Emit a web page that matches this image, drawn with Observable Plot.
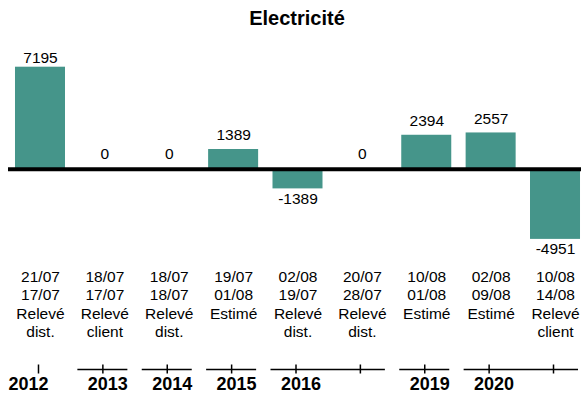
<!DOCTYPE html>
<html><head><meta charset="utf-8">
<script src="https://cdn.jsdelivr.net/npm/d3@7"></script>
<script src="https://cdn.jsdelivr.net/npm/@observablehq/plot@0.6"></script>
<style>
html,body{margin:0;padding:0;background:#fff;overflow:hidden;}
#wrap{position:relative;width:581px;height:401px;font-family:"Liberation Sans",Arial,sans-serif;overflow:hidden;}
#title{position:absolute;top:8px;left:0;width:594px;text-align:center;font-weight:bold;font-size:20px;line-height:20px;color:#000;}
#chart svg{display:block;}
</style></head><body>
<div id="wrap"><div id="title">Electricité</div><div id="chart"></div></div>
<script>
const dateStart = ["21/07","18/07","18/07","19/07","02/08","20/07","10/08","02/08","10/08"];
const dateEnd   = ["17/07","17/07","18/07","01/08","19/07","28/07","01/08","09/08","14/08"];
const readType  = ["Relevé\ndist.","Relevé\nclient","Relevé\ndist.","Estimé","Relevé\ndist.","Relevé\ndist.","Estimé","Estimé","Relevé\nclient"];
const values    = [7195, 0, 0, 1389, -1389, 0, 2394, 2557, -4951];
const yearGroup = ["2012","2013","2014","2015","2016","2016","2019","2020","2020"];

const categories = dateStart.map((d, i) => `${d}\n${dateEnd[i]}\n${readType[i]}`);
const data = categories.map((key, i) => ({key, value: values[i], year: yearGroup[i]}));
const groups = d3.groups(data, d => d.year).map(([year, rows]) => ({year, first: rows[0].key, last: rows[rows.length - 1].key}));
const maxV = d3.max(values);

const FONT = '"Liberation Sans", Arial, sans-serif';
const xScale = {type: "band", domain: categories, range: [7.8, 587.2], paddingInner: 0.2233, paddingOuter: 0.1117, round: false, axis: null};

const mainPlot = Plot.plot({
  width: 581, height: 350,
  marginTop: 0, marginBottom: 0, marginLeft: 8, marginRight: 0,
  style: {fontFamily: FONT, background: "white", color: "#000"},
  x: xScale,
  y: {domain: [0, maxV], range: [168.7, 66.7], axis: null},
  marks: [
    Plot.barY(data, {x: "key", y: "value", fill: "#45958a"}),
    Plot.ruleY([0], {stroke: "#000", strokeWidth: 4}),
    Plot.text(data.filter(d => d.value > 0 && d.value !== maxV), {x: "key", y: "value", text: d => String(d.value), dy: -14, fontSize: 15.5}),
    Plot.text(data.filter(d => d.value === maxV), {x: "key", y: "value", text: d => String(d.value), dy: -9, fontSize: 15.5}),
    Plot.text(data.filter(d => d.value === 0), {x: "key", y: "value", text: d => String(d.value), dy: -15.5, fontSize: 15.5}),
    Plot.text(data.filter(d => d.value < 0), {x: "key", y: "value", text: d => String(d.value), dy: 10, fontSize: 15.5}),
    Plot.text(data, {x: "key", text: "key", frameAnchor: "top", lineAnchor: "top", dy: 268.5, fontSize: 15.5, lineHeight: 1.18})
  ]
});

const axisPlot = Plot.plot({
  width: 581, height: 51,
  marginTop: 0, marginBottom: 13, marginLeft: 8, marginRight: 0,
  style: {fontFamily: FONT, background: "white", color: "#000"},
  x: xScale,
  marks: [
    Plot.ruleY(groups.slice(0, 1), {x2: "last", y: null, insetLeft: 2, dx: -2, stroke: "#000", strokeWidth: 1.5}),
    Plot.ruleY(groups.slice(1), {x1: "first", x2: "last", y: null, dx: -2, stroke: "#000", strokeWidth: 1.5}),
    Plot.ruleX(data, {x: "key", insetTop: 14.5, insetBottom: 14.5, dx: -2, stroke: "#000", strokeWidth: 1.5}),
    Plot.text(groups.slice(0, 1), {x: "first", text: "year", frameAnchor: "bottom", textAnchor: "start", dx: -32, dy: 1, fontSize: 18, fontWeight: "bold"}),
    Plot.text(groups.slice(1), {x: "first", text: "year", frameAnchor: "bottom", textAnchor: "end", dx: 23, dy: 1, fontSize: 18, fontWeight: "bold"})
  ]
});

const chart = document.getElementById("chart");
chart.appendChild(mainPlot);
chart.appendChild(axisPlot);
</script>
</body></html>
